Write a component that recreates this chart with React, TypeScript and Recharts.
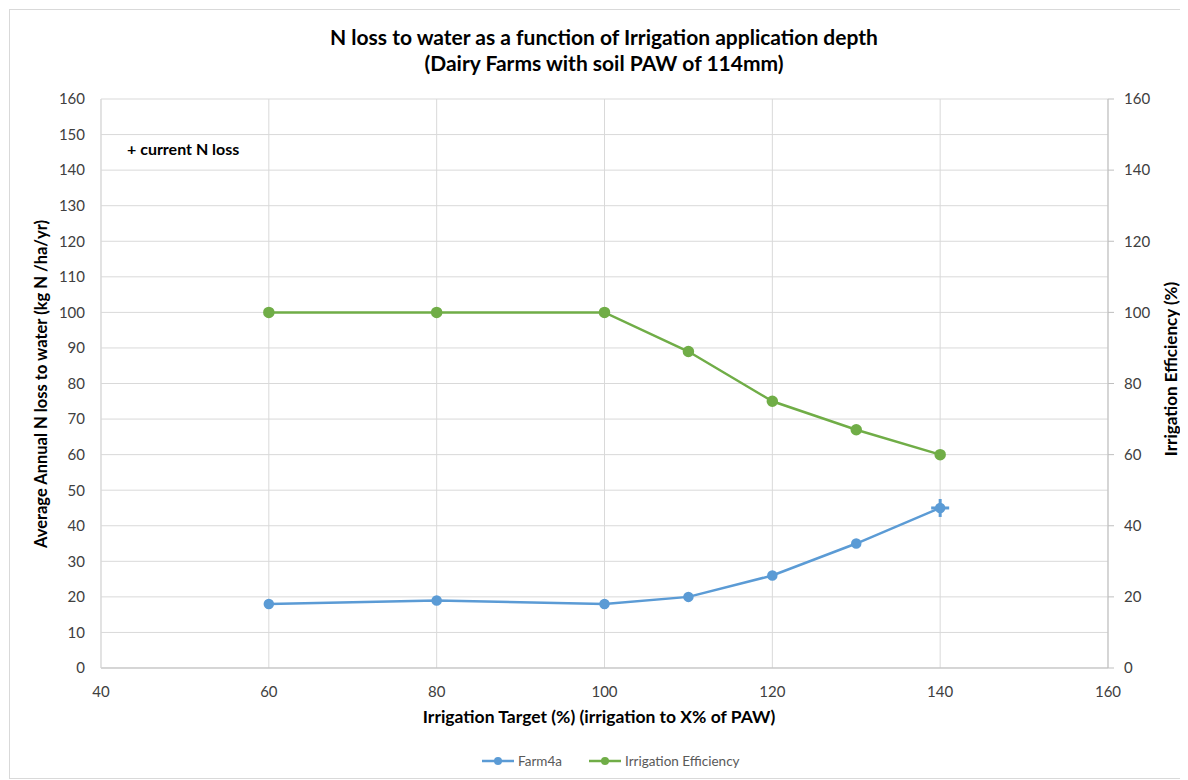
import {
  ComposedChart,
  Line,
  Scatter,
  XAxis,
  YAxis,
  CartesianGrid
} from 'recharts'

const irrigationTarget = [60, 80, 100, 110, 120, 130, 140]
const farm4a = [18, 19, 18, 20, 26, 35, 45]
const irrigationEfficiency = [100, 100, 100, 89, 75, 67, 60]
const currentLoss = [{ x: 140, y: 45 }]

const xTicks = [40, 60, 80, 100, 120, 140, 160]
const leftTicks = [0, 10, 20, 30, 40, 50, 60, 70, 80, 90, 100, 110, 120, 130, 140, 150, 160]
const rightTicks = [0, 20, 40, 60, 80, 100, 120, 140, 160]

const farmData = irrigationTarget.map((x, i) => ({ x, farm: farm4a[i] }))
const effData = irrigationTarget.map((x, i) => ({ x, eff: irrigationEfficiency[i] }))

const BLUE = '#5B9BD5'
const GREEN = '#70AD47'
const FONT = 'Lato, "Open Sans", sans-serif'

const tickStyle = { fill: '#404040', fontSize: 15, fontFamily: FONT }

const Cross = (props: any) => {
  const { cx, cy } = props
  return (
    <g>
      <line x1={cx - 9} y1={cy} x2={cx + 9} y2={cy} stroke={BLUE} strokeWidth={3} />
      <line x1={cx} y1={cy - 9} x2={cx} y2={cy + 9} stroke={BLUE} strokeWidth={3} />
    </g>
  )
}

const LegendItem = ({ color, label }: { color: string; label: string }) => (
  <span style={{ display: 'inline-flex', alignItems: 'center', marginRight: 27 }}>
    <svg width={32} height={10}>
      <line x1={0} y1={5} x2={32} y2={5} stroke={color} strokeWidth={2.5} />
      <circle cx={16} cy={5} r={4} fill={color} />
    </svg>
    <span style={{ marginLeft: 4 }}>{label}</span>
  </span>
)

export default function App() {
  return (
    <div style={{ position: 'relative', width: 1180, height: 772, fontFamily: FONT }}>
      <div style={{ position: 'absolute', left: 1, top: 1, width: 1178, height: 770, border: '1px solid #d9d9d9', boxSizing: 'border-box' }} />
      <div style={{ position: 'absolute', left: 0, top: 16, width: 1192, textAlign: 'center', fontWeight: 700, fontSize: 21, lineHeight: '26px', color: '#000' }}>
        N loss to water as a function of Irrigation application depth
        <br />
        (Dairy Farms with soil PAW of 114mm)
      </div>
      <ComposedChart
        width={1180}
        height={772}
        margin={{ top: 91, right: 20, left: 33, bottom: 82 }}
      >
        <CartesianGrid stroke="#d9d9d9" yAxisId="left" />
        <XAxis
          type="number"
          dataKey="x"
          domain={[40, 160]}
          ticks={xTicks}
          allowDuplicatedCategory={false}
          stroke="#bfbfbf"
          tickLine={false}
          tickMargin={12}
          tick={tickStyle}
          height={30}
        />
        <YAxis
          yAxisId="left"
          domain={[0, 160]}
          ticks={leftTicks}
          stroke="#d9d9d9"
          tickLine={false}
          tickMargin={10}
          tick={tickStyle}
          width={60}
        />
        <YAxis
          yAxisId="right"
          orientation="right"
          domain={[0, 160]}
          ticks={rightTicks}
          stroke="#bfbfbf"
          tickSize={6}
          tickMargin={10}
          tick={tickStyle}
          width={60}
        />
        <Line
          yAxisId="left"
          data={farmData}
          dataKey="farm"
          stroke={BLUE}
          strokeWidth={2.5}
          dot={{ r: 4, fill: BLUE, stroke: BLUE }}
          isAnimationActive={false}
        />
        <Line
          yAxisId="right"
          data={effData}
          dataKey="eff"
          stroke={GREEN}
          strokeWidth={2.5}
          dot={{ r: 4.5, fill: GREEN, stroke: GREEN }}
          isAnimationActive={false}
        />
        <Scatter
          yAxisId="left"
          data={currentLoss}
          dataKey="y"
          shape={<Cross />}
          isAnimationActive={false}
        />
      </ComposedChart>
      <div style={{ position: 'absolute', left: 119, top: 131, fontWeight: 700, fontSize: 16, color: '#000' }}>
        + current N loss
      </div>
      <div style={{ position: 'absolute', left: 0, top: 698, width: 1182, textAlign: 'center', fontWeight: 700, fontSize: 17.5, color: '#000' }}>
        Irrigation Target (%) (irrigation to X% of PAW)
      </div>
      <div style={{ position: 'absolute', left: 33, top: 376, width: 0, height: 0 }}>
        <div style={{ position: 'absolute', transform: 'translate(-50%, -50%) rotate(-90deg)', whiteSpace: 'nowrap', fontWeight: 700, fontSize: 16.5, color: '#000' }}>
          Average Annual N loss to water (kg N /ha/yr)
        </div>
      </div>
      <div style={{ position: 'absolute', left: 1162, top: 361, width: 0, height: 0 }}>
        <div style={{ position: 'absolute', transform: 'translate(-50%, -50%) rotate(-90deg)', whiteSpace: 'nowrap', fontWeight: 700, fontSize: 17, color: '#000' }}>
          Irrigation Efficiency (%)
        </div>
      </div>
      <div style={{ position: 'absolute', left: 474, top: 745, fontSize: 13.5, color: '#595959', whiteSpace: 'nowrap' }}>
        <LegendItem color={BLUE} label="Farm4a" />
        <LegendItem color={GREEN} label="Irrigation Efficiency" />
      </div>
    </div>
  )
}
